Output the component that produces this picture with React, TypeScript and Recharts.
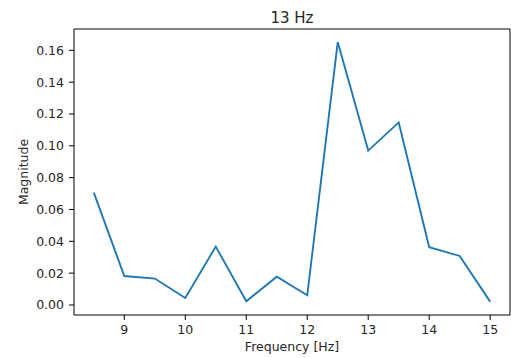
import { Label, Line, LineChart, XAxis, YAxis } from 'recharts';

const frequencies = [8.5, 9, 9.5, 10, 10.5, 11, 11.5, 12, 12.5, 13, 13.5, 14, 14.5, 15];
const magnitudes = [0.0706, 0.0182, 0.0166, 0.0044, 0.0367, 0.0023, 0.0178, 0.0061, 0.1652, 0.097, 0.1147, 0.0363, 0.0308, 0.0021];
const xTicks = [9, 10, 11, 12, 13, 14, 15];
const yTicks = [0, 0.02, 0.04, 0.06, 0.08, 0.1, 0.12, 0.14, 0.16];

const data = frequencies.map((freq, i) => ({ freq, mag: magnitudes[i] }));

const font = "'DejaVu Sans', sans-serif";
const textColor = '#262626';
const tickStyle = { fill: textColor, fontSize: 12.5, fontFamily: font };

const xDomain: [number, number] = [8.175, 15.325];
const yDomain: [number, number] = [-0.0063, 0.1734];

const YLabel = (props: any) => {
  const vb = props.viewBox || {};
  const cx = 23;
  const cy = vb.y + vb.height / 2;
  return (
    <text
      x={cx}
      y={cy}
      transform={`rotate(-90, ${cx}, ${cy})`}
      textAnchor="middle"
      dominantBaseline="central"
      fill={textColor}
      fontSize={12.5}
      fontFamily={font}
    >
      Magnitude
    </text>
  );
};

const Title = (props: any) => {
  const vb = props.viewBox || {};
  return (
    <text x={vb.x + vb.width / 2} y={23} textAnchor="middle" fill={textColor} fontSize={15} fontFamily={font}>
      13 Hz
    </text>
  );
};

export default function App() {
  return (
    <div style={{ position: 'absolute', left: 0, top: 0, background: '#fff' }}>
      <LineChart width={511} height={358} data={data} margin={{ top: 28, right: 0, bottom: 0, left: 0 }}>
        <XAxis
          dataKey="freq"
          type="number"
          domain={xDomain}
          ticks={xTicks}
          allowDataOverflow
          height={43}
          tick={tickStyle}
          tickSize={5}
          tickMargin={5}
          tickLine={{ stroke: '#000' }}
          axisLine={{ stroke: '#000' }}
        >
          <Label value="Frequency [Hz]" position="insideBottom" offset={7} fill={textColor} fontSize={12.5} fontFamily={font} />
        </XAxis>
        <XAxis
          xAxisId="top"
          orientation="top"
          dataKey="freq"
          type="number"
          domain={xDomain}
          allowDataOverflow
          height={1}
          tick={false}
          tickLine={false}
          axisLine={{ stroke: '#000' }}
        >
          <Label content={Title} />
        </XAxis>
        <YAxis
          type="number"
          domain={yDomain}
          ticks={yTicks}
          allowDataOverflow
          width={74}
          tick={tickStyle}
          tickSize={5}
          tickMargin={5}
          tickLine={{ stroke: '#000' }}
          axisLine={{ stroke: '#000' }}
          tickFormatter={(v: number) => v.toFixed(2)}
        >
          <Label content={YLabel} />
        </YAxis>
        <YAxis
          yAxisId="right"
          orientation="right"
          type="number"
          domain={yDomain}
          allowDataOverflow
          width={1}
          tick={false}
          tickLine={false}
          axisLine={{ stroke: '#000' }}
        />
        <Line
          dataKey="mag"
          stroke="#1f77b4"
          strokeWidth={1.9}
          dot={false}
          activeDot={false}
          isAnimationActive={false}
        />
      </LineChart>
    </div>
  );
}
